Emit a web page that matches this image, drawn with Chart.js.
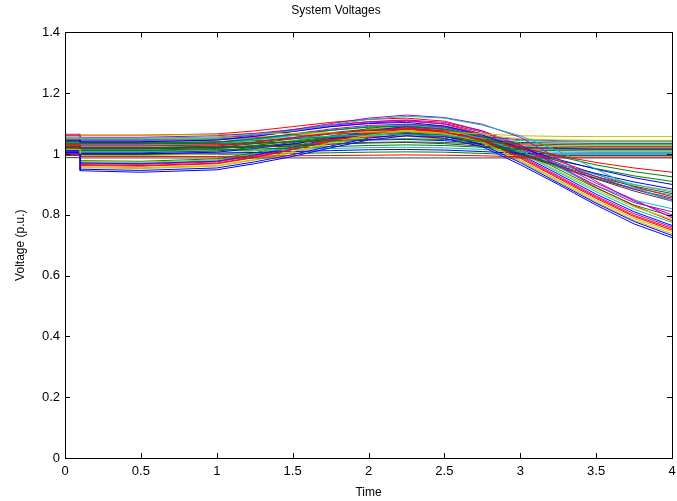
<!DOCTYPE html>
<html>
<head>
<meta charset="utf-8">
<script src="https://cdn.jsdelivr.net/npm/chart.js@4/dist/chart.umd.min.js"></script>
<style>
  html, body { margin: 0; padding: 0; background: #fff; }
  #wrap { width: 677px; height: 501px; }
</style>
</head>
<body>
<div id="wrap"><canvas id="myChart"></canvas></div>
<script>
// sample times (s); 0.1 appears twice for the fault step
const time = [0, 0.1, 0.1, 0.5, 1.0, 1.25, 1.5, 1.75, 2.0, 2.25, 2.5, 2.75, 3.0, 3.25, 3.5, 3.75, 4.0];

// bus voltages (p.u.), one row per bus
const voltages = [
  [1.000,1.000,0.945,0.940,0.948,0.968,0.992,1.020,1.046,1.060,1.052,1.024,0.965,0.900,0.832,0.770,0.725],
  [1.035,1.035,1.034,1.034,1.035,1.037,1.040,1.044,1.048,1.050,1.048,1.042,1.034,1.031,1.030,1.030,1.030],
  [1.030,1.030,1.026,1.026,1.030,1.040,1.054,1.068,1.078,1.082,1.072,1.048,1.020,0.995,0.972,0.954,0.940],
  [1.055,1.055,1.052,1.052,1.056,1.064,1.076,1.096,1.114,1.124,1.118,1.095,1.060,1.010,0.950,0.890,0.845],
  [1.060,1.060,1.055,1.055,1.060,1.068,1.080,1.100,1.118,1.128,1.120,1.098,1.055,0.985,0.910,0.845,0.800],
  [1.060,1.060,1.062,1.062,1.064,1.066,1.068,1.070,1.072,1.074,1.072,1.066,1.060,1.058,1.057,1.057,1.057],
  [0.988,0.988,0.987,0.987,0.987,0.987,0.987,0.987,0.987,0.987,0.987,0.987,0.987,0.987,0.987,0.987,0.987],
  [1.045,1.045,1.040,1.040,1.046,1.058,1.074,1.090,1.100,1.104,1.092,1.062,1.020,0.982,0.950,0.922,0.900],
  [1.040,1.040,1.035,1.035,1.040,1.050,1.064,1.078,1.088,1.092,1.082,1.056,1.022,0.992,0.964,0.942,0.925],
  [0.995,0.995,0.992,0.992,0.992,0.993,0.994,0.995,0.996,0.997,0.996,0.994,0.991,0.990,0.990,0.990,0.990],
  [1.045,1.045,1.046,1.046,1.048,1.050,1.054,1.058,1.062,1.064,1.060,1.052,1.044,1.041,1.040,1.040,1.040],
  [1.045,1.045,1.040,1.040,1.046,1.058,1.074,1.090,1.102,1.108,1.100,1.072,1.026,0.962,0.896,0.840,0.810],
  [1.015,1.015,0.958,0.955,0.962,0.982,1.008,1.036,1.062,1.076,1.068,1.040,0.980,0.914,0.848,0.788,0.745],
  [1.020,1.020,1.018,1.018,1.020,1.022,1.026,1.032,1.036,1.038,1.034,1.026,1.018,1.016,1.015,1.015,1.015],
  [1.010,1.010,0.950,0.946,0.954,0.974,0.998,1.026,1.052,1.066,1.058,1.030,0.972,0.905,0.838,0.778,0.732],
  [1.015,1.015,1.012,1.012,1.014,1.016,1.020,1.024,1.028,1.030,1.028,1.022,1.014,1.011,1.010,1.010,1.010],
  [1.020,1.020,0.962,0.960,0.968,0.988,1.014,1.042,1.068,1.082,1.074,1.046,0.986,0.920,0.854,0.794,0.750],
  [1.035,1.035,1.028,1.028,1.034,1.046,1.062,1.078,1.090,1.094,1.082,1.050,1.008,0.968,0.932,0.900,0.875],
  [1.040,1.040,1.032,1.032,1.038,1.050,1.066,1.082,1.094,1.098,1.088,1.058,1.016,0.970,0.926,0.884,0.850],
  [1.052,1.052,1.050,1.050,1.052,1.056,1.062,1.068,1.074,1.076,1.072,1.062,1.050,1.046,1.045,1.045,1.045],
  [1.025,1.025,1.016,1.016,1.022,1.034,1.050,1.066,1.078,1.082,1.072,1.042,1.002,0.962,0.926,0.894,0.870],
  [1.005,1.005,1.002,1.002,1.003,1.005,1.008,1.011,1.014,1.015,1.013,1.008,1.002,1.000,1.000,1.000,1.000],
  [1.020,1.020,1.012,1.012,1.018,1.028,1.042,1.056,1.066,1.070,1.062,1.040,1.008,0.978,0.952,0.928,0.910],
  [1.030,1.030,1.028,1.028,1.030,1.034,1.040,1.048,1.056,1.060,1.056,1.044,1.030,1.026,1.025,1.025,1.025],
  [1.035,1.035,1.028,1.028,1.034,1.046,1.062,1.078,1.090,1.096,1.090,1.064,1.018,0.956,0.896,0.848,0.820],
  [1.050,1.050,1.044,1.044,1.050,1.062,1.078,1.094,1.106,1.112,1.104,1.076,1.030,0.968,0.904,0.850,0.790],
  [1.005,1.005,0.955,0.952,0.960,0.980,1.004,1.032,1.058,1.072,1.064,1.036,0.976,0.910,0.842,0.782,0.738],
  [1.015,1.015,1.004,1.004,1.010,1.022,1.038,1.054,1.066,1.070,1.062,1.036,0.998,0.958,0.920,0.884,0.855],
  [1.010,1.010,1.000,1.000,1.006,1.018,1.034,1.050,1.062,1.066,1.058,1.034,1.000,0.966,0.936,0.908,0.885],
  [1.025,1.025,1.022,1.022,1.024,1.026,1.030,1.034,1.038,1.040,1.038,1.032,1.024,1.021,1.020,1.020,1.020],
  [1.000,1.000,0.965,0.962,0.970,0.990,1.016,1.044,1.070,1.084,1.076,1.048,0.990,0.924,0.858,0.798,0.755],
  [1.010,1.010,1.008,1.008,1.010,1.012,1.015,1.018,1.021,1.022,1.020,1.015,1.008,1.006,1.005,1.005,1.005],
  [1.025,1.025,0.968,0.966,0.974,0.994,1.020,1.048,1.074,1.088,1.080,1.052,0.994,0.928,0.862,0.804,0.760],
  [1.005,1.005,0.995,0.995,1.000,1.010,1.026,1.042,1.054,1.058,1.050,1.028,0.994,0.956,0.922,0.898,0.880],
  [1.040,1.040,1.038,1.038,1.040,1.044,1.050,1.058,1.064,1.066,1.060,1.048,1.038,1.036,1.035,1.035,1.035],
  [1.010,1.010,0.970,0.968,0.976,0.996,1.022,1.050,1.076,1.090,1.082,1.056,0.998,0.934,0.868,0.810,0.765],
  [1.000,1.000,0.998,0.998,0.999,1.000,1.002,1.004,1.006,1.007,1.006,1.002,0.997,0.995,0.995,0.995,0.995],
  [1.050,1.050,1.046,1.046,1.052,1.064,1.080,1.096,1.106,1.110,1.098,1.066,1.022,0.976,0.934,0.892,0.860],
  [1.030,1.030,0.972,0.970,0.978,0.998,1.024,1.052,1.078,1.092,1.086,1.060,1.004,0.940,0.876,0.818,0.775],
  [1.050,1.050,1.048,1.048,1.050,1.054,1.060,1.066,1.070,1.072,1.068,1.058,1.047,1.044,1.043,1.043,1.043],
  [1.020,1.020,0.975,0.973,0.981,1.001,1.027,1.055,1.081,1.095,1.088,1.062,1.006,0.944,0.882,0.826,0.785],
  [1.030,1.030,1.020,1.020,1.026,1.038,1.054,1.070,1.082,1.086,1.076,1.046,1.004,0.960,0.918,0.878,0.845],
  [1.022,1.022,1.020,1.020,1.022,1.026,1.032,1.040,1.046,1.048,1.044,1.034,1.022,1.018,1.017,1.017,1.017],
  [1.040,1.040,0.978,0.976,0.984,1.004,1.030,1.058,1.084,1.098,1.092,1.066,1.012,0.950,0.888,0.832,0.795],
  [1.065,1.065,1.062,1.062,1.066,1.076,1.090,1.104,1.114,1.118,1.108,1.076,1.028,0.960,0.890,0.830,0.780],
  [1.020,1.020,1.010,1.010,1.016,1.028,1.044,1.060,1.072,1.076,1.066,1.038,0.998,0.956,0.918,0.888,0.865]
];

const xTicks = [0, 0.5, 1, 1.5, 2, 2.5, 3, 3.5, 4];
const xTickLabels = ['0', '0.5', '1', '1.5', '2', '2.5', '3', '3.5', '4'];
const yTicks = [0, 0.2, 0.4, 0.6, 0.8, 1.0, 1.2, 1.4];
const yTickLabels = ['0', '0.2', '0.4', '0.6', '0.8', '1', '1.2', '1.4'];

// matlab default line colours
const lineColors = ['rgb(0,0,255)', 'rgb(0,128,0)', 'rgb(255,0,0)', 'rgb(0,191,191)',
                    'rgb(191,0,191)', 'rgb(191,191,0)', 'rgb(64,64,64)'];

const FONT = "'Liberation Sans', Arial, Helvetica, sans-serif";

const datasets = voltages.map((row, i) => ({
  label: 'Bus ' + (i + 1),
  data: row.map((v, k) => ({x: time[k], y: v})),
  borderColor: lineColors[i % lineColors.length],
  borderWidth: 1,
  pointRadius: 0,
  tension: 0,
  fill: false
}));

// box round the axes with inward ticks on all four sides
const matlabBox = {
  id: 'matlabBox',
  afterDraw(chart) {
    const {ctx, chartArea: a, scales} = chart;
    ctx.save();
    ctx.strokeStyle = '#000';
    ctx.lineWidth = 1;
    ctx.beginPath();
    xTicks.forEach(v => {
      const px = Math.round(scales.x.getPixelForValue(v)) + 0.5;
      ctx.moveTo(px, a.bottom); ctx.lineTo(px, a.bottom - 5);
      ctx.moveTo(px, a.top); ctx.lineTo(px, a.top + 5);
    });
    yTicks.forEach(v => {
      const py = Math.round(scales.y.getPixelForValue(v)) + 0.5;
      ctx.moveTo(a.left, py); ctx.lineTo(a.left + 5, py);
      ctx.moveTo(a.right, py); ctx.lineTo(a.right - 5, py);
    });
    ctx.stroke();
    ctx.strokeRect(Math.round(a.left) + 0.5, Math.round(a.top) + 0.5,
                   Math.round(a.right - a.left), Math.round(a.bottom - a.top));
    ctx.restore();
  }
};

new Chart(document.getElementById('myChart'), {
  type: 'line',
  data: {datasets: datasets},
  plugins: [matlabBox],
  options: {
    responsive: true,
    maintainAspectRatio: false,
    animation: false,
    layout: {padding: {top: 0, right: 5, bottom: 0, left: 0}},
    plugins: {
      legend: {display: false},
      tooltip: {enabled: false},
      title: {
        display: true,
        text: 'System Voltages',
        color: '#000',
        font: {family: FONT, size: 12, weight: 'normal'},
        padding: {top: 3, bottom: 15}
      }
    },
    scales: {
      x: {
        type: 'linear',
        min: 0,
        max: 4,
        afterFit(scale) {
          scale.height = 43;
          scale.paddingLeft = 0;
          scale.paddingRight = 0;
        },
        afterBuildTicks(scale) { scale.ticks = xTicks.map(v => ({value: v})); },
        grid: {display: false, drawTicks: false},
        border: {display: false},
        ticks: {
          color: '#000',
          padding: 6,
          maxRotation: 0,
          font: {family: FONT, size: 13},
          callback: (v, i) => xTickLabels[i]
        },
        title: {
          display: true,
          text: 'Time',
          color: '#000',
          font: {family: FONT, size: 12},
          padding: {top: 0, bottom: 1}
        }
      },
      y: {
        type: 'linear',
        min: 0,
        max: 1.4,
        afterFit(scale) { scale.width = 65; },
        afterBuildTicks(scale) { scale.ticks = yTicks.map(v => ({value: v})); },
        grid: {display: false, drawTicks: false},
        border: {display: false},
        ticks: {
          color: '#000',
          padding: 5,
          font: {family: FONT, size: 13},
          callback: (v, i) => yTickLabels[i]
        },
        title: {
          display: true,
          text: 'Voltage (p.u.)',
          color: '#000',
          font: {family: FONT, size: 12},
          padding: {top: 13, bottom: 0}
        }
      }
    }
  }
});
</script>
</body>
</html>
